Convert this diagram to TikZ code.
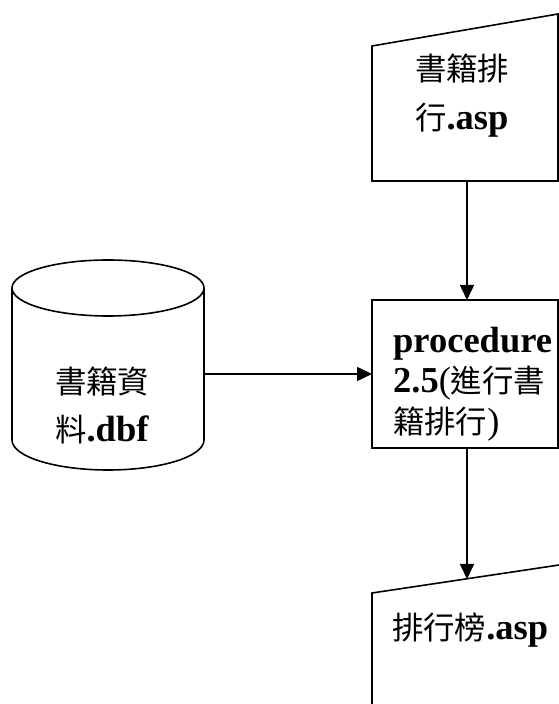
\documentclass[tikz,border=0pt]{standalone}
\usepackage{fontspec}
\setmainfont{Liberation Serif}
\newfontfamily\cjk{Noto Sans CJK TC}[Scale=0.86]
\usetikzlibrary{arrows.meta}
\begin{document}
\begin{tikzpicture}[x=1pt,y=1pt,
  outline/.style={line width=1.6pt, line join=miter},
  flow/.style={line width=1.6pt, -{Triangle[width=14pt,length=15pt]}},
  lbl/.style={anchor=base west, inner sep=0pt, font=\fontsize{36.5}{40}\selectfont}]
\useasboundingbox (0,0) rectangle (559,704);
% top manual input box
\draw[outline] (372,523) -- (372,658) -- (558,690) -- (558,523) -- cycle;
\node[lbl] (t1) at (415,623) {\cjk 書籍排};
\node[lbl] (t2) at (415,574) {\cjk 行\textbf{\rmfamily .asp}};
% procedure box
\draw[outline] (372,256) rectangle (558,404);
\node[lbl] (p1) at (393,351) {\textbf{procedure}};
\node[lbl] (p2) at (393,311) {\textbf{2.5}(\cjk 進行書};
\node[lbl] (p3) at (393,270) {\cjk 籍排行\rmfamily )};
% cylinder
\draw[outline] (12,416) -- (12,264) arc[start angle=180,end angle=360,x radius=96,y radius=30] -- (204,416);
\draw[outline] (108,416) ellipse[x radius=96, y radius=28];
\node[lbl] (c1) at (55,310) {\cjk 書籍資};
\node[lbl] (c2) at (55,262) {\cjk 料\textbf{\rmfamily .dbf}};
% bottom box
\draw[outline] (372,0) -- (372,111) -- (559,139);
\node[lbl] (b1) at (392,64) {\cjk 排行榜\textbf{\rmfamily .asp}};
% connector ends
\coordinate (topbot) at (467,523);
\coordinate (proctop) at (467,404);
\coordinate (procbot) at (467,256);
\coordinate (outtop) at (467,125);
\coordinate (cylright) at (204,330);
\coordinate (procleft) at (372,330);
\draw[flow] (topbot) -- (proctop);
\draw[flow] (cylright) -- (procleft);
\draw[flow] (procbot) -- (outtop);
\end{tikzpicture}
\end{document}
